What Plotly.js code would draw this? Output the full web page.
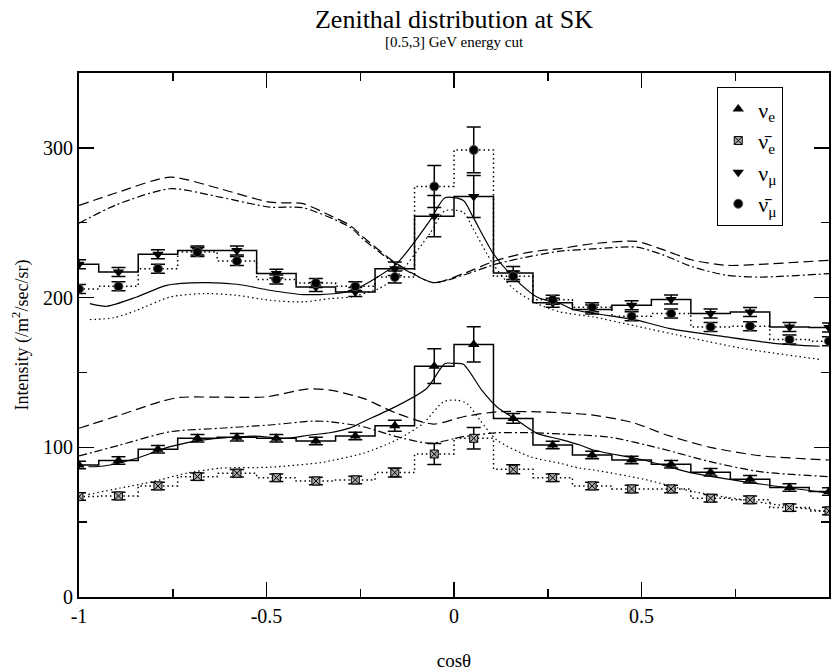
<!DOCTYPE html>
<html>
<head>
<meta charset="utf-8">
<script src="https://cdn.plot.ly/plotly-3.0.1.min.js"></script>
<style>html,body{margin:0;padding:0;background:#fff;}#chart{width:833px;height:671px;}</style>
</head>
<body>
<div id="chart"></div>
<script>
// bin centres (cos theta)
const cosBins = [-1, -0.8947, -0.7895, -0.6842, -0.5789, -0.4737, -0.3684, -0.2632, -0.1579, -0.0526,
                 0.0526, 0.1579, 0.2632, 0.3684, 0.4737, 0.5789, 0.6842, 0.7895, 0.8947, 1];

// data points
const numuVals    = [222.2, 217.1, 228.9, 231.5, 231.5, 216, 207.1, 203.7, 219.3, 254.4,
                     267.5, 216.4, 196.5, 192, 194.9, 198.7, 189.3, 190.4, 180.4, 180];
const numuErr     = [3, 3, 3, 3, 3, 3, 3, 3, 4.5, 13.7, 14, 4.4, 3, 3, 3, 3, 3, 3, 3, 3];
const numubarVals = [205.8, 207.5, 219.3, 230.4, 224.4, 212, 209.7, 207.5, 213.7, 274.2,
                     298.6, 214.2, 198.5, 193.5, 187.5, 189.3, 180.4, 180.9, 172, 170.9];
const numubarErr  = [3, 3, 3, 3, 3, 3, 3, 3, 4, 14, 15.3, 3.5, 3, 3, 3, 3, 3, 3, 3, 3];
const nueVals     = [88.2, 91.1, 98.7, 106, 106.7, 106, 104.2, 107.5, 114.4, 154.2,
                     168.7, 119.3, 101.5, 94.9, 91.5, 88.7, 83.3, 78.7, 73.1, 70.4];
const nueErr      = [2.5, 2.5, 2.5, 2.5, 2.5, 2.5, 2.5, 2.5, 3.7, 11.6, 11.8, 3.3, 2.5, 2.5, 2.5, 2.5, 2.5, 2.5, 2.5, 2.5];
const nuebarVals  = [67.1, 67.5, 74.2, 80.4, 82.7, 79.7, 77.5, 78.2, 83.1, 95.5,
                     106, 85.3, 79.7, 74.2, 72.2, 72.2, 66, 64.9, 59.7, 57.5];
const nuebarErr   = [2.5, 2.5, 2.5, 2.5, 2.5, 2.5, 2.5, 2.5, 3, 7, 7.2, 3, 2.5, 2.5, 2.5, 2.5, 2.5, 2.5, 2.5, 2.5];

// model curves, upper group (nu_mu)
const numuSolidX = [-0.971, -0.926, -0.846, -0.766, -0.668, -0.579, -0.491, -0.402, -0.313, -0.26, -0.153, -0.064, -0.024, 0.025, 0.051, 0.105, 0.158, 0.221, 0.283, 0.318, 0.487, 0.576, 0.727, 0.86, 0.975];
const numuSolidY = [196, 194.2, 200.4, 208.2, 210, 208.9, 204.9, 202, 202.7, 206, 222.7, 251.5, 266.7, 264.9, 253.7, 229.3, 213.7, 200.4, 196, 192, 184.9, 179.3, 173.7, 169.3, 167.5];
const numuDotX   = [-0.971, -0.908, -0.846, -0.757, -0.668, -0.579, -0.491, -0.402, -0.331, -0.277, -0.2, -0.153, -0.064, -0.024, 0.025, 0.051, 0.105, 0.158, 0.221, 0.283, 0.371, 0.487, 0.638, 0.771, 0.975];
const numuDotY   = [185.3, 186.5, 191.5, 200.4, 202.7, 201.5, 198.2, 197.1, 199.3, 200.4, 206, 214, 243, 258, 257, 246, 222, 206, 196, 190.4, 187.1, 180.9, 172.7, 166, 158.7];
const numuDashX  = [-1, -0.9, -0.757, -0.624, -0.491, -0.403, -0.331, -0.277, -0.242, -0.153, -0.055, 0.025, 0.114, 0.203, 0.283, 0.371, 0.487, 0.549, 0.638, 0.727, 0.816, 1];
const numuDashY  = [261.5, 270, 280.4, 272.7, 263.7, 262.7, 254.9, 248.2, 240.4, 222.7, 210, 216, 224.9, 230.4, 232.7, 236, 237.5, 232.7, 224.9, 221.5, 222.2, 224.9];
const numuDdX    = [-1, -0.9, -0.757, -0.624, -0.491, -0.403, -0.277, -0.242, -0.153, -0.055, 0.025, 0.114, 0.203, 0.283, 0.371, 0.487, 0.549, 0.638, 0.727, 0.816, 1];
const numuDdY    = [249.7, 262, 272.7, 267.1, 260.4, 260, 247, 239, 222, 210, 215, 222.5, 227.5, 231, 232.5, 233.7, 229.3, 220.4, 214.9, 213.7, 216];

// model curves, lower group (nu_e)
const nueSolidX = [-0.975, -0.935, -0.846, -0.757, -0.668, -0.535, -0.446, -0.384, -0.331, -0.277, -0.242, -0.153, -0.073, -0.024, 0, 0.025, 0.074, 0.114, 0.167, 0.221, 0.283, 0.336, 0.371, 0.505, 0.638, 0.771, 0.99];
const nueSolidY = [87, 87.5, 92.7, 100.4, 104.9, 107.5, 106, 108.2, 109.7, 113, 117.1, 127.5, 139.3, 156, 156, 155.5, 138.2, 127.1, 118.2, 109.3, 105.3, 101.5, 98.2, 91.5, 82.7, 77.1, 69.7];
const nueDotX   = [-0.975, -0.891, -0.802, -0.713, -0.624, -0.491, -0.357, -0.331, -0.242, -0.153, -0.082, -0.028, 0.007, 0.034, 0.069, 0.114, 0.203, 0.283, 0.336, 0.371, 0.505, 0.638, 0.771, 0.99];
const nueDotY   = [68.5, 72.7, 77.1, 82.7, 86, 86.7, 89.7, 90.9, 96, 104.9, 116, 130.4, 131.5, 129.3, 118.2, 104.9, 93.7, 89.3, 86, 84.9, 78.7, 70.4, 64.9, 57.1];
const nueDashX  = [-1, -0.891, -0.784, -0.731, -0.5, -0.393, -0.331, -0.242, -0.153, -0.055, 0.025, 0.114, 0.221, 0.283, 0.371, 0.478, 0.567, 0.683, 0.816, 1];
const nueDashY  = [112.7, 121.5, 130.4, 133.3, 133.7, 138.9, 138.2, 132.7, 122.7, 115.5, 120.4, 123.7, 123.7, 123.1, 121.5, 116.4, 108.2, 100, 94.4, 91.5];
const nueDdX    = [-1, -0.891, -0.757, -0.624, -0.491, -0.375, -0.331, -0.242, -0.153, -0.064, 0.025, 0.114, 0.203, 0.283, 0.416, 0.549, 0.683, 0.816, 1];
const nueDdY    = [94.2, 101.5, 110.4, 112.7, 114.9, 117.5, 117.1, 113.7, 107.1, 102.7, 107.1, 109.7, 109.7, 108.9, 106.7, 99.3, 90.4, 83.7, 80.4];

const labels = {
  nue: '\u03BD<sub>e</sub>',
  nuebar: '\u03BD\u0304<sub>e</sub>',
  numu: '\u03BD<sub>\u03BC</sub>',
  numubar: '\u03BD\u0304<sub>\u03BC</sub>'
};

const serif = '"Liberation Serif"';
const DOT = '1.5px,3px';
const DASH = '10px,5px';
const DASHDOT = '8px,3px,2px,3px';

function curve(x, y, dash) {
  return {x: x, y: y, mode: 'lines', showlegend: false, hoverinfo: 'skip',
          line: {color: '#000', width: 1.2, dash: dash, shape: 'spline', smoothing: 0.7}};
}
function hist(y, dash) {
  return {x: cosBins, y: y, mode: 'lines', showlegend: false, hoverinfo: 'skip',
          line: {color: '#000', width: 1.5, dash: dash, shape: 'hvh'}};
}
function pts(y, err, name, marker) {
  return {x: cosBins, y: y, mode: 'markers', name: name, marker: marker,
          error_y: {type: 'data', array: err, visible: true, color: '#000', thickness: 1.5, width: 7}};
}

const traces = [
  curve(numuDashX, numuDashY, DASH),
  curve(numuDdX, numuDdY, DASHDOT),
  curve(numuSolidX, numuSolidY, 'solid'),
  curve(numuDotX, numuDotY, DOT),
  curve(nueDashX, nueDashY, DASH),
  curve(nueDdX, nueDdY, DASHDOT),
  curve(nueSolidX, nueSolidY, 'solid'),
  curve(nueDotX, nueDotY, DOT),
  hist(numuVals, 'solid'),
  hist(numubarVals, DOT),
  hist(nueVals, 'solid'),
  hist(nuebarVals, DOT),
  pts(nueVals, nueErr, labels.nue, {symbol: 'triangle-up', size: 10, color: '#000'}),
  pts(nuebarVals, nuebarErr, labels.nuebar, {symbol: 'square-x', size: 8, color: '#aaa', line: {color: '#000', width: 1}}),
  pts(numuVals, numuErr, labels.numu, {symbol: 'triangle-down', size: 10, color: '#000'}),
  pts(numubarVals, numubarErr, labels.numubar, {symbol: 'circle', size: 9, color: '#000', line: {color: '#555', width: 1}})
];

const axisCommon = {
  showgrid: false, zeroline: false, showline: true, linecolor: '#000', linewidth: 2,
  mirror: 'allticks', ticks: 'inside', ticklen: 15, tickwidth: 1.5, tickcolor: '#000',
  tickfont: {family: serif, size: 20, color: '#000'}
};

const layout = {
  width: 833, height: 671,
  margin: {l: 79, r: 4, t: 73, b: 74},
  paper_bgcolor: '#fff', plot_bgcolor: '#fff',
  font: {family: serif, color: '#000'},
  title: {text: 'Zenithal distribution at SK', font: {family: serif, size: 26, color: '#000'},
          x: 0.5, xref: 'paper', xanchor: 'center', y: 0.972, yref: 'container', yanchor: 'middle'},
  annotations: [{text: '[0.5,3] GeV energy cut', xref: 'paper', yref: 'paper', x: 0.5, y: 1.0585,
                 xanchor: 'center', yanchor: 'middle', showarrow: false, font: {family: serif, size: 15, color: '#000'}}],
  xaxis: Object.assign({}, axisCommon, {
    range: [-1, 1], tickmode: 'array', tickvals: [-1, -0.5, 0, 0.5, 1], ticktext: ['-1', '-0.5', '0', '0.5', '1'],
    minor: {tickvals: [-0.75, -0.25, 0.25, 0.75], ticks: 'inside', ticklen: 8, tickwidth: 1.5, tickcolor: '#000'},
    title: {text: 'cos\u03B8', font: {family: serif, size: 19, color: '#000'}, standoff: 30}
  }),
  yaxis: Object.assign({}, axisCommon, {
    range: [0, 350], tickmode: 'array', tickvals: [0, 100, 200, 300], ticktext: ['0', '100', '200', '300'],
    minor: {tickvals: [50, 150, 250], ticks: 'inside', ticklen: 8, tickwidth: 1.5, tickcolor: '#000'},
    title: {text: 'Intensity (/m<sup>2</sup>/sec/sr)', font: {family: serif, size: 18, color: '#000'}, standoff: 10}
  }),
  showlegend: true,
  legend: {x: 0.851, y: 0.973, xanchor: 'left', yanchor: 'top', bgcolor: '#fff',
           bordercolor: '#000', borderwidth: 1, font: {family: serif, size: 22, color: '#000'},
           tracegroupgap: 0, itemwidth: 30}
};

Plotly.newPlot('chart', traces, layout, {staticPlot: true, displayModeBar: false});
</script>
</body>
</html>
